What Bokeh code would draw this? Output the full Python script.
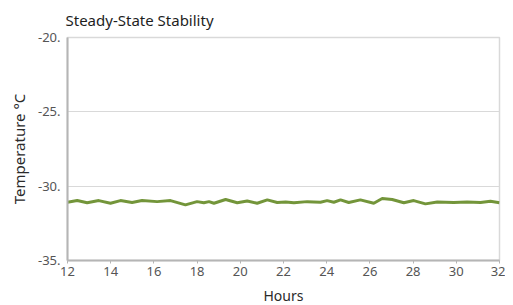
from bokeh.plotting import figure
from bokeh.models import PrintfTickFormatter, FixedTicker, Range1d
from bokeh.embed import file_html
from bokeh.resources import INLINE

hours = [12.0, 12.45, 12.91, 13.45, 13.99, 14.45, 14.99, 15.45, 16.15, 16.77,
         17.46, 18.0, 18.31, 18.55, 18.78, 19.32, 19.86, 20.32, 20.78, 21.25,
         21.71, 22.1, 22.48, 23.10, 23.71, 24.02, 24.33, 24.64, 25.02, 25.56,
         26.18, 26.57, 27.03, 27.57, 28.03, 28.57, 29.12, 29.88, 30.50, 31.12,
         31.58, 32.0]
temps = [-31.08, -30.97, -31.12, -30.97, -31.15, -30.97, -31.10, -30.97, -31.04, -30.97,
         -31.26, -31.04, -31.12, -31.04, -31.15, -30.90, -31.12, -31.00, -31.15, -30.92,
         -31.10, -31.06, -31.12, -31.04, -31.08, -30.97, -31.08, -30.92, -31.10, -30.92,
         -31.15, -30.83, -30.90, -31.12, -30.97, -31.19, -31.06, -31.10, -31.06, -31.10,
         -31.02, -31.12]
x_ticks = [12, 14, 16, 18, 20, 22, 24, 26, 28, 30, 32]
y_ticks = [-35, -30, -25, -20]

FONT = "Noto Sans"

p = figure(frame_width=432, frame_height=223, output_backend="svg", toolbar_location=None,
           x_range=Range1d(12, 32), y_range=Range1d(-35, -20),
           title="Steady-State Stability",
           min_border_left=67, min_border_right=6, min_border_top=37, min_border_bottom=40)

p.title.text_font = FONT
p.title.text_font_size = "15px"
p.title.text_font_style = "normal"
p.title.text_color = "#1e1e1e"
p.title.offset = -2
p.title.standoff = 15

p.line(hours, temps, line_color="#6b8f2f", line_width=3, line_alpha=0.95)

p.xaxis.ticker = FixedTicker(ticks=x_ticks)
p.yaxis.ticker = FixedTicker(ticks=y_ticks)
p.yaxis.formatter = PrintfTickFormatter(format="%d.")
p.xaxis.axis_label = "Hours"
p.yaxis.axis_label = "Temperature °C"

for ax in (p.xaxis, p.yaxis):
    ax.axis_label_text_font = FONT
    ax.axis_label_text_color = "#2a2a2a"
    ax.major_label_text_font = FONT
    ax.major_label_text_font_size = "13px"
    ax.major_label_text_color = "#555555"
    ax.axis_line_color = "#b5b5b5"
    ax.axis_line_width = 2
    ax.major_tick_line_color = "#b5b5b5"
    ax.minor_tick_line_color = None

p.xaxis.axis_label_text_font_size = "14px"
p.xaxis.axis_label_text_font_style = "normal"
p.yaxis.axis_label_text_font_size = "15px"
p.yaxis.axis_label_text_font_style = "normal"

p.xaxis.major_tick_in = 0
p.xaxis.major_tick_out = 3
p.xaxis.major_label_standoff = 3
p.xaxis.axis_label_standoff = 7
p.yaxis.major_tick_in = 0
p.yaxis.major_tick_out = 0
p.yaxis.major_label_standoff = 7
p.yaxis.axis_label_standoff = 6

p.xgrid.grid_line_color = None
p.ygrid.grid_line_color = "#d9d9d9"
p.ygrid.grid_line_width = 1

p.outline_line_color = "#d9d9d9"
p.outline_line_width = 1.5
p.background_fill_color = "white"
p.border_fill_color = "white"

open("out.html", "w").write(file_html(p, INLINE))
